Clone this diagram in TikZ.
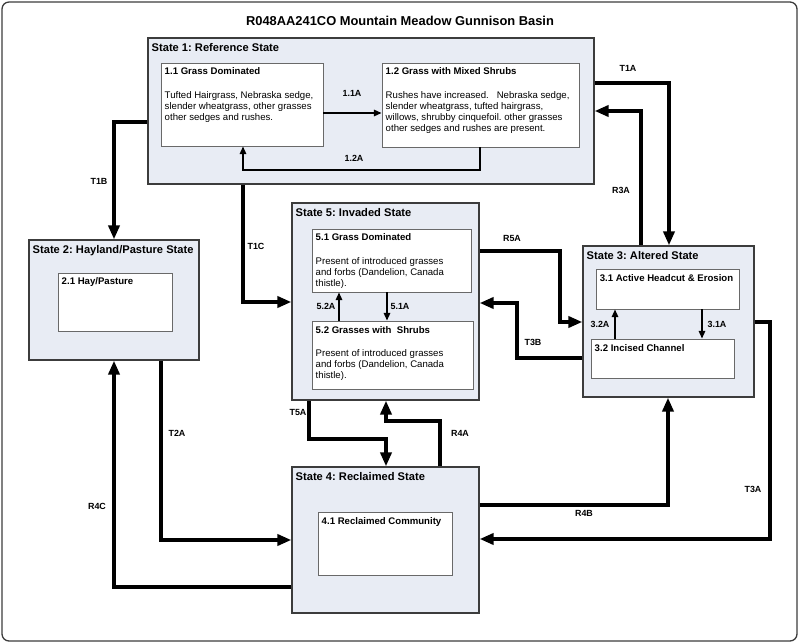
\documentclass[tikz,border=0pt]{standalone}
\usepackage{fontspec}
\setmainfont{Liberation Sans}
\usetikzlibrary{arrows.meta}
\definecolor{statefill}{RGB}{232,236,244}
\definecolor{framegray}{RGB}{60,60,60}
\definecolor{boxgray}{RGB}{105,105,105}
\frenchspacing
\begin{document}
\begin{tikzpicture}[x=0.03cm,y=-0.03cm]
	\tikzstyle{state}=[draw=framegray,line width=1.1pt,fill=statefill,inner sep=0pt]
	\tikzstyle{phase}=[draw=boxgray,line width=0.8pt,fill=white,inner sep=0pt]
	\tikzstyle{stitle}=[anchor=north west,inner sep=0pt,xshift=3.5pt,yshift=-5pt,font=\fontsize{9.5}{11}\selectfont\bfseries]
	\tikzstyle{ptext}=[anchor=north west,inner sep=0pt,xshift=3.4pt,yshift=-4.5pt,align=left,font=\fontsize{8.2}{9.4}\selectfont]
	\tikzstyle{trans}=[line width=3.4pt,-{Triangle[length=12pt,width=9.5pt]}]
	\tikzstyle{pathway}=[line width=1.4pt,-{Triangle[length=6.5pt,width=5.5pt]}]
	\tikzstyle{tlab}=[font=\fontsize{7.6}{9}\selectfont\bfseries]
	\useasboundingbox (0,0) rectangle (800,643);
	\draw[framegray,line width=1.1pt,rounded corners=6pt] (2,2) rectangle (797,641);
	\node[font=\fontsize{11}{13}\selectfont\bfseries] (title) at (400,21) {R048AA241CO Mountain Meadow Gunnison Basin};
	% states
	\node[state,minimum width=13.38cm,minimum height=4.38cm,label={[stitle]north west:{State 1: Reference State}}] (s_1) at (371,111) {};
	\node[state,minimum width=5.1cm,minimum height=3.6cm,label={[stitle]north west:{State 2: Hayland/Pasture State}}] (s_2) at (114,300) {};
	\node[state,minimum width=5.13cm,minimum height=4.53cm,label={[stitle]north west:{State 3: Altered State}}] (s_3) at (668.5,321.5) {};
	\node[state,minimum width=5.61cm,minimum height=4.38cm,label={[stitle]north west:{State 4: Reclaimed State}}] (s_4) at (385.5,540) {};
	\node[state,minimum width=5.61cm,minimum height=5.91cm,label={[stitle]north west:{State 5: Invaded State}}] (s_5) at (385.5,301.5) {};
	% communities
	\node[phase,minimum width=4.86cm,minimum height=2.49cm,label={[ptext]north west:{\textbf{1.1 Grass Dominated}\\[11pt]Tufted Hairgrass, Nebraska sedge,\\slender wheatgrass, other grasses\\other sedges and rushes.}}] (p_11) at (242,104.5) {};
	\node[phase,minimum width=5.91cm,minimum height=2.52cm,label={[ptext]north west:{\textbf{1.2 Grass with Mixed Shrubs}\\[11pt]Rushes have increased.\ \ \ Nebraska sedge,\\slender wheatgrass, tufted hairgrass,\\willows, shrubby cinquefoil. other grasses\\other sedges and rushes are present.}}] (p_12) at (480.5,105) {};
	\node[phase,minimum width=3.42cm,minimum height=1.74cm,label={[ptext]north west:{\textbf{2.1 Hay/Pasture}}}] (p_21) at (115,302) {};
	\node[phase,minimum width=4.29cm,minimum height=1.2cm,label={[ptext]north west:{\textbf{3.1 Active Headcut \& Erosion}}}] (p_31) at (667.5,289) {};
	\node[phase,minimum width=4.29cm,minimum height=1.17cm,label={[ptext]north west:{\textbf{3.2 Incised Channel}}}] (p_32) at (662.5,358.5) {};
	\node[phase,minimum width=4.02cm,minimum height=1.89cm,label={[ptext]north west:{\textbf{4.1 Reclaimed Community}}}] (p_41) at (385,543.5) {};
	\node[phase,minimum width=4.77cm,minimum height=1.89cm,label={[ptext]north west:{\textbf{5.1 Grass Dominated}\\[11pt]Present of introduced grasses\\and forbs (Dandelion, Canada\\thistle).}}] (p_51) at (391.5,260.5) {};
	\node[phase,minimum width=4.83cm,minimum height=2.04cm,label={[ptext]north west:{\textbf{5.2 Grasses with\ \ Shrubs}\\[11pt]Present of introduced grasses\\and forbs (Dandelion, Canada\\thistle).}}] (p_52) at (392.5,355) {};
	% community pathways
	\draw[pathway] (p_11.east |- 0,113) -- (p_12.west |- 0,113);
	\draw[pathway] (p_12.south -| 480,0) |- (243,170) -- (p_11.south -| 243,0);
	\draw[pathway] (p_51.south -| 387,0) -- (p_52.north -| 387,0);
	\draw[pathway] (p_52.north -| 339,0) -- (p_51.south -| 339,0);
	\draw[pathway] (p_31.south -| 702,0) -- (p_32.north -| 702,0);
	\draw[pathway] (p_32.north -| 615,0) -- (p_31.south -| 615,0);
	\node[tlab] (l_11a) at (352,93) {1.1A};
	\node[tlab] (l_12a) at (354,158) {1.2A};
	\node[tlab] (l_51a) at (400,306) {5.1A};
	\node[tlab] (l_52a) at (326,306) {5.2A};
	\node[tlab] (l_31a) at (717,324) {3.1A};
	\node[tlab] (l_32a) at (600,324) {3.2A};
	% transitions and restorations
	\draw[trans] (s_1.east |- 0,83) -| (s_3.north -| 669,0);
	\draw[trans] (s_3.north -| 641,0) |- (s_1.east |- 0,111);
	\draw[trans] (s_1.west |- 0,122) -| (s_2.north);
	\draw[trans] (s_1.south -| 243,0) |- (s_5.west |- 0,302);
	\draw[trans] (s_5.east |- 0,251) -| (560,322) -- (s_3.west |- 0,322);
	\draw[trans] (s_3.west |- 0,358) -| (517,303) -- (s_5.east |- 0,303);
	\draw[trans] (s_3.east |- 0,322) -| (770,539) -- (s_4.east |- 0,539);
	\draw[trans] (s_5.south -| 309,0) |- (386,439) -- (s_4.north -| 386,0);
	\draw[trans] (s_4.north -| 440,0) |- (386,421) -- (s_5.south -| 386,0);
	\draw[trans] (s_4.east |- 0,505) -| (s_3.south -| 668,0);
	\draw[trans] (s_2.south -| 161,0) |- (s_4.west |- 0,540);
	\draw[trans] (s_4.west |- 0,587) -| (s_2.south -| 114,0);
	\node[tlab] (l_t1a) at (628,68) {T1A};
	\node[tlab] (l_r3a) at (621,190) {R3A};
	\node[tlab] (l_t1b) at (99,181) {T1B};
	\node[tlab] (l_t1c) at (256,246) {T1C};
	\node[tlab] (l_r5a) at (512,238) {R5A};
	\node[tlab] (l_t3b) at (533,342) {T3B};
	\node[tlab] (l_t3a) at (753,489) {T3A};
	\node[tlab] (l_t5a) at (298,412) {T5A};
	\node[tlab] (l_r4a) at (460,433) {R4A};
	\node[tlab] (l_r4b) at (584,513) {R4B};
	\node[tlab] (l_t2a) at (177,433) {T2A};
	\node[tlab] (l_r4c) at (97,506) {R4C};
\end{tikzpicture}
\end{document}
